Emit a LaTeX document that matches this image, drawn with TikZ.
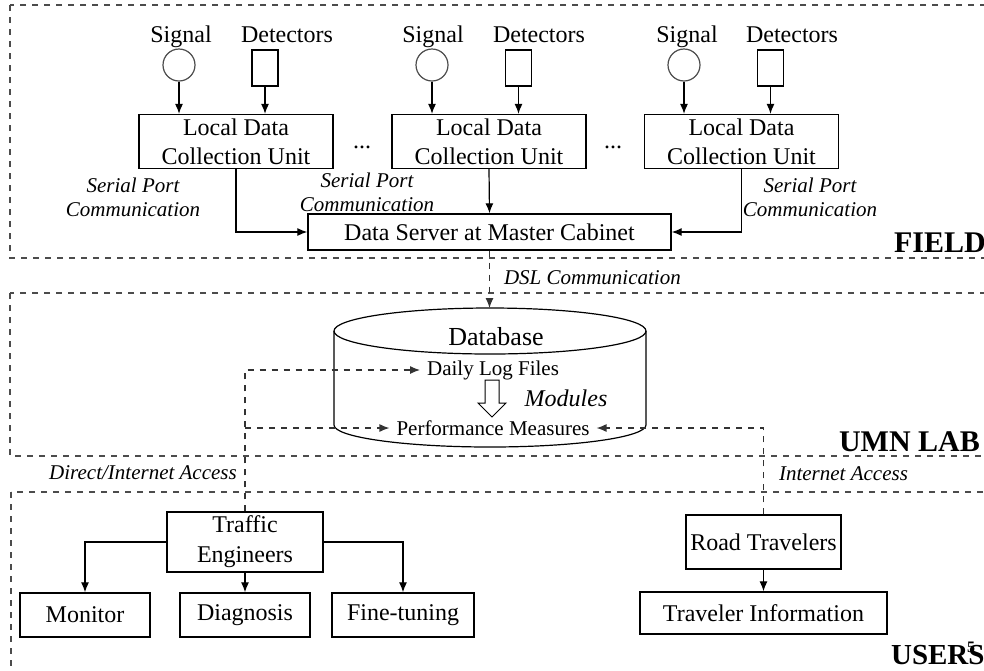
\documentclass[tikz,border=0pt]{standalone}
\usepackage{fontspec}
\setmainfont{Liberation Serif}
\usetikzlibrary{arrows.meta}

\tikzset{
  box/.style={draw, rectangle, line width=0.7pt, align=center, inner sep=2pt},
  sigdot/.style={draw=black!70, circle, line width=0.6pt, minimum size=16pt, inner sep=0pt},
  detbox/.style={draw, rectangle, line width=0.7pt, minimum width=13pt, minimum height=18pt, inner sep=0pt},
  region/.style={draw=black!70, dashed, line width=0.6pt},
  arr/.style={-{Latex[length=5pt,width=4pt]}, line width=0.6pt},
  dasharr/.style={arr, dashed, draw=black!80},
  note/.style={font=\fontsize{10.5}{12}\selectfont\itshape, align=center},
  tag/.style={font=\fontsize{15}{15}\selectfont\bfseries, anchor=west}
}

\begin{document}
\begin{tikzpicture}[x=0.5pt, y=-0.5pt, font=\fontsize{12}{14.5}\selectfont]
\useasboundingbox (0,0) rectangle (984,670);

% regions
\draw[region] (10,5) rectangle (995,258);
\draw[region] (10,293) rectangle (995,456);
\draw[region] (11,492) rectangle (995,690);
\node[tag] (field) at (887,243) {FIELD};
\node[tag] (lab) at (832,442) {UMN LAB};
\node[tag, font=\fontsize{14.5}{15}\selectfont\bfseries] (users) at (884,655) {USERS};
\node[font=\fontsize{8}{8}\selectfont\bfseries] (pg) at (971,647) {5};

% field units
\node[anchor=base] (sl1) at (181,42) {Signal};
\node[anchor=base] (dl1) at (287,42) {Detectors};
\node[sigdot] (sig1) at (179,65) {};
\node[detbox] (det1) at (265,68) {};
\node[box, minimum width=97pt, minimum height=24.5pt] (ldcu1) at (236,141.5) {Local Data\\Collection Unit};

\node[anchor=base] (sl2) at (433,42) {Signal};
\node[anchor=base] (dl2) at (539,42) {Detectors};
\node[sigdot] (sig2) at (432,65) {};
\node[detbox] (det2) at (518.5,68) {};
\node[box, minimum width=97pt, minimum height=24.5pt] (ldcu2) at (489,141.5) {Local Data\\Collection Unit};

\node[anchor=base] (sl3) at (687,42) {Signal};
\node[anchor=base] (dl3) at (792,42) {Detectors};
\node[sigdot] (sig3) at (684,65) {};
\node[detbox] (det3) at (770.5,68) {};
\node[box, minimum width=97pt, minimum height=24.5pt] (ldcu3) at (741.5,141.5) {Local Data\\Collection Unit};

\node (dots1) at (362,147) {...};
\node (dots2) at (613,147) {...};

\node[box, minimum width=181.5pt, minimum height=18pt] (srv) at (489.5,232) {Data Server at Master Cabinet};

\node[note] (sp1) at (133,197) {Serial Port\\Communication};
\node[note] (sp2) at (367,192) {Serial Port\\Communication};
\node[note] (sp3) at (810,197) {Serial Port\\Communication};

\draw[arr] (sig1) -- (sig1 |- ldcu1.north);
\draw[arr] (det1) -- (det1 |- ldcu1.north);
\draw[arr] (sig2) -- (sig2 |- ldcu2.north);
\draw[arr] (det2) -- (det2 |- ldcu2.north);
\draw[arr] (sig3) -- (sig3 |- ldcu3.north);
\draw[arr] (det3) -- (det3 |- ldcu3.north);
\draw[arr] (ldcu1.south) |- (srv.west);
\draw[arr] (ldcu2.south) -- (srv.north);
\draw[arr] (ldcu3.south) |- (srv.east);

% database
\draw[line width=0.6pt] (334,331) -- (334,425) arc[start angle=180, end angle=0, x radius=156, y radius=22] -- (646,331);
\draw[line width=0.6pt] (490,331) ellipse [x radius=156, y radius=23];
\coordinate (dbtop) at (490,308);
\node[font=\fontsize{13}{15}\selectfont] (db) at (496,337) {Database};
\node[font=\fontsize{10.5}{12}\selectfont] (dlf) at (493,370) {Daily Log Files};
\node[font=\fontsize{10.5}{12}\selectfont] (pm) at (493,428) {Performance Measures};
\draw[line width=0.5pt, fill=white] (485,380) -- (499,380) -- (499,403) -- (506,403) -- (492,417) -- (478,403) -- (485,403) -- cycle;
\node[font=\fontsize{12}{14}\selectfont\itshape] (mods) at (566,398) {Modules};

\draw[dasharr] (srv.south) -- (srv.south |- dbtop);
\node[note, anchor=west] (dsl) at (497,278) {DSL Communication};

% users
\node[box, minimum width=78pt, minimum height=27pt, font=\fontsize{12}{15}\selectfont] (te) at (245,542) {Traffic\\Engineers};
\node[box, minimum width=65pt, minimum height=22pt] (mon) at (85,615) {Monitor};
\node[box, minimum width=65pt, minimum height=22pt] (diag) at (245,615) {Diagnosis};
\node[box, minimum width=71pt, minimum height=22pt] (fine) at (403,615) {Fine-tuning};
\node[box, minimum width=77.5pt, minimum height=27pt] (rt) at (763.5,542) {Road Travelers};
\node[box, minimum width=123.5pt, minimum height=21pt] (ti) at (763.5,613) {Traveler Information};

\draw[arr] (te.west) -| (mon.north);
\draw[arr] (te.south) -- (diag.north);
\draw[arr] (te.east) -| (fine.north);
\draw[arr] (rt.south) -- (ti.north);

\draw[dasharr] (te.north) |- (dlf.west);
\draw[dasharr] (te.north |- pm.west) -- (pm.west);
\draw[dasharr] (rt.north) |- (pm.east);
\node[note] (dia) at (143,473) {Direct/Internet Access};
\node[note, anchor=west] (ia) at (772,474) {Internet Access};
\end{tikzpicture}
\end{document}
